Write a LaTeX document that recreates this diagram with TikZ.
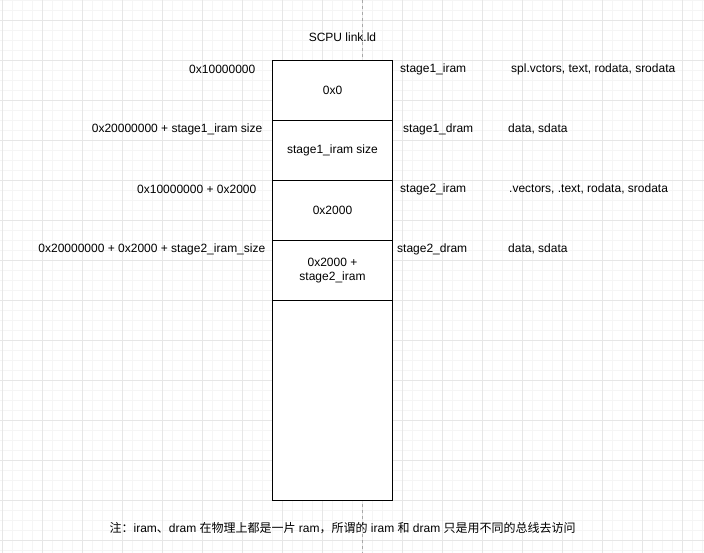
\documentclass[tikz,border=0pt]{standalone}
\usepackage{fontspec}
\setmainfont{Liberation Sans}
\newfontfamily\cjk{Noto Sans CJK SC}
\definecolor{gridminor}{HTML}{F5F5F5}
\definecolor{gridmajor}{HTML}{E6E6E6}
\definecolor{guide}{HTML}{A8A8A8}
\begin{document}
\begin{tikzpicture}[x=1pt,y=-1pt,
  lbl/.style={inner sep=0pt,font=\fontsize{12}{14}\selectfont,text=black},
  cell/.style={draw=black,line width=1pt,fill=white,minimum width=120pt,minimum height=60pt,inner sep=0pt,font=\fontsize{12}{14}\selectfont,align=center,anchor=north west}]
\useasboundingbox (0,0) rectangle (704,553);
% grid
\foreach \i in {2,12,...,702} \draw[gridminor,line width=0.75pt] (\i,0) -- (\i,553);
\foreach \j in {0,10,...,550} \draw[gridminor,line width=0.75pt] (0,\j) -- (704,\j);
\foreach \i in {2,42,...,702} \draw[gridmajor,line width=0.75pt] (\i,0) -- (\i,553);
\foreach \j in {20,60,...,540} \draw[gridmajor,line width=0.75pt] (0,\j) -- (704,\j);
% page guide
\coordinate (gtop) at (362,0);
\coordinate (gbot) at (362,553);
\draw[guide,line width=0.8pt,dash pattern=on 3pt off 3pt] (gtop) -- (gbot);
% memory cells
\node[cell] (c1) at (272,60) {0x0};
\node[cell] (c2) at (272,120) {stage1\_iram size};
\node[cell] (c3) at (272,180) {0x2000};
\node[cell] (c4) at (272,240) {0x2000 +\\stage2\_iram};
\node[cell,minimum height=200pt] (c5) at (272,300) {};
% title
\node[lbl] (title) at (342.5,37) {SCPU link.ld};
% left addresses
\node[lbl,anchor=east] (a1) at (255.5,69) {0x10000000};
\node[lbl,anchor=east] (a2) at (262.5,129) {0x20000000 + stage1\_iram size};
\node[lbl,anchor=east] (a3) at (256.5,189) {0x10000000 + 0x2000};
\node[lbl,anchor=east] (a4) at (265.5,249) {0x20000000 + 0x2000 + stage2\_iram\_size};
% right region names
\node[lbl,anchor=west] (r1) at (400,69) {stage1\_iram};
\node[lbl,anchor=west] (r2) at (403,129) {stage1\_dram};
\node[lbl,anchor=west] (r3) at (400,189) {stage2\_iram};
\node[lbl,anchor=west] (r4) at (397,249) {stage2\_dram};
% sections
\node[lbl,anchor=west] (s1) at (511,69) {spl.vctors, text, rodata, srodata};
\node[lbl,anchor=west] (s2) at (508,129) {data, sdata};
\node[lbl,anchor=west] (s3) at (509,189) {.vectors, .text, rodata, srodata};
\node[lbl,anchor=west] (s4) at (508,249) {data, sdata};
% note
\node[lbl] (note) at (342.6,528) {{\cjk 注：}iram{\cjk 、}dram {\cjk 在物理上都是一片} ram{\cjk ，所谓的} iram {\cjk 和} dram {\cjk 只是用不同的总线去访问}};
\end{tikzpicture}
\end{document}
